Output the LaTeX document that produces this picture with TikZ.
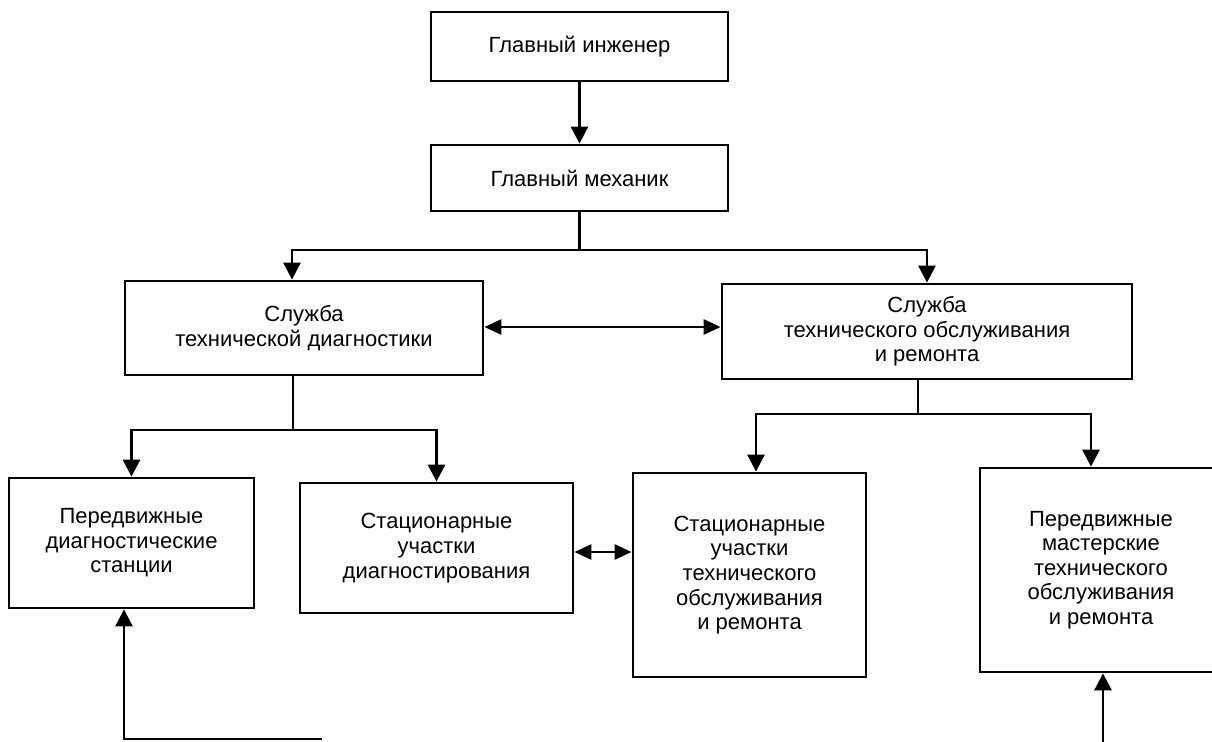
\documentclass[tikz,border=0pt]{standalone}
\usepackage{fontspec}
\setmainfont{Liberation Sans}
\usetikzlibrary{arrows.meta,calc}
\begin{document}
\begin{tikzpicture}[x=0.5pt,y=-0.5pt,
  box/.style={draw, line width=1.4pt, inner sep=0pt, align=center,
    font=\fontsize{11}{12.3}\selectfont, anchor=center},
  ln/.style={line width=1.4pt},
  arr/.style={line width=1.4pt, -{Triangle[length=8.5pt,width=8.5pt]}},
  dbl/.style={line width=1.4pt, {Triangle[length=8.5pt,width=7.5pt]}-{Triangle[length=8.5pt,width=7.5pt]}}]
\path[use as bounding box, fill=white] (0,0) rectangle (1212,741);
\clip (0,0) rectangle (1212,741);

\node[box, minimum width=148.5pt, minimum height=34.5pt] (b1) at (579.5,46.5) {Главный инженер};
\node[box, minimum width=148.5pt, minimum height=33pt] (b2) at (579.5,178) {Главный механик};
\node[box, minimum width=179pt, minimum height=47pt] (b3) at (304,328) {Служба\\технической диагностики};
\node[box, minimum width=205pt, minimum height=47.5pt] (b4) at (927,331.5) {Служба\\технического обслуживания\\и ремонта};
\node[box, minimum width=122.5pt, minimum height=65pt] (b5) at (131.5,543) {Передвижные\\диагностические\\станции};
\node[box, minimum width=136.5pt, minimum height=65pt] (b6) at (436.5,548) {Стационарные\\участки\\диагностирования};
\node[box, minimum width=116.5pt, minimum height=102pt] (b7) at (749.5,575) {Стационарные\\участки\\технического\\обслуживания\\и ремонта};
\node[box, minimum width=121pt, minimum height=102pt] (b8) at (1101,570) {Передвижные\\мастерские\\технического\\обслуживания\\и ремонта};

\draw[arr] (b1) -- (b2);

\coordinate (s1) at (578,250);
\draw[ln] (b2.south) -- (b2.south |- s1);
\draw[arr] (b2.south |- s1) -| ($(b3.north)+(-12,0)$);
\draw[arr] (b2.south |- s1) -| (b4.north);

\coordinate (m1) at (600,327);
\draw[dbl] (b3.east |- m1) -- (b4.west |- m1);

\coordinate (s2) at (293,430);
\draw[ln] (b3.south -| s2) -- (s2);
\draw[arr] (s2) -| (b5.north);
\draw[arr] (s2) -| (b6.north);

\coordinate (s3) at (918,414);
\draw[ln] (b4.south -| s3) -- (s3);
\draw[arr] (s3) -| ($(b7.north)+(6.5,0)$);
\draw[arr] (s3) -| ($(b8.north)+(-10,0)$);

\coordinate (m2) at (600,552);
\draw[dbl] (b6.east |- m2) -- (b7.west |- m2);

\coordinate (e1) at (322,739);
\draw[arr] (e1) -| ($(b5.south)+(-7.5,0)$);
\coordinate (e2) at (1103,745);
\draw[arr] (e2) -- (e2 |- b8.south);
\end{tikzpicture}
\end{document}
